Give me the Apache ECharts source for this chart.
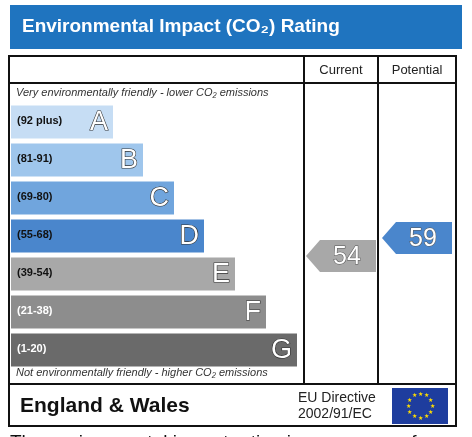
<!DOCTYPE html>
<html><head><meta charset="utf-8">
<script src="https://cdn.jsdelivr.net/npm/echarts@6/dist/echarts.min.js"></script>
<style>html,body{margin:0;padding:0;background:#fff}#c{width:472px;height:437px}</style>
</head><body><div id="c"></div>
<script>
const bands = ['A', 'B', 'C', 'D', 'E', 'F', 'G'];
const ranges = ['(92 plus)', '(81-91)', '(69-80)', '(55-68)', '(39-54)', '(21-38)', '(1-20)'];
const barLen = [102, 132, 163, 193, 224, 255, 286];
const bandColors = ['#c6ddf4', '#9fc6ec', '#70a5dd', '#4a86cc', '#a8a8a8', '#8d8d8d', '#6a6a6a'];
const rangeColors = ['#111', '#111', '#111', '#111', '#111', '#fff', '#fff'];
const columns = ['Current', 'Potential'];
const ratings = [54, 59];
const arrowColors = ['#a8a8a8', '#4a86cc'];

const font = 'Liberation Sans, Arial, sans-serif';

function arrow(params, api) {
  const p = api.coord([api.value(0), api.value(1)]);
  const w = 70, h = 32, tip = 14;
  const l = p[0] - w / 2 - 1, r = p[0] + w / 2 - 1, t = p[1] - h / 2, b = p[1] + h / 2;
  return {
    type: 'group',
    children: [
      { type: 'polygon', shape: { points: [[l, p[1]], [l + tip, t], [r, t], [r, b], [l + tip, b]] },
        style: { fill: arrowColors[params.dataIndex] } },
      { type: 'text', style: { text: String(api.value(1)), x: p[0] + 5, y: p[1] + 1, align: 'center', verticalAlign: 'middle',
        fill: '#fff', stroke: '#555', lineWidth: 1, font: '25px ' + font } }
    ]
  };
}

const option = {
  animation: false,
  grid: [
    { left: 11, top: 103, width: 290, height: 266 },
    { left: 304, top: 103, width: 152, height: 266 }
  ],
  xAxis: [
    { gridIndex: 0, type: 'value', min: 0, max: 290, show: false },
    { gridIndex: 1, type: 'category', data: columns, show: false }
  ],
  yAxis: [
    { gridIndex: 0, type: 'category', data: bands, inverse: true, show: false },
    { gridIndex: 1, type: 'value', min: 22.6, max: 96.5, show: false }
  ],
  series: [
    {
      type: 'bar', xAxisIndex: 0, yAxisIndex: 0, barWidth: 33,
      data: barLen.map((v, i) => ({ value: v, itemStyle: { color: bandColors[i] } })),
      label: { show: true, position: 'insideRight', offset: [0, 1],
        formatter: p => bands[p.dataIndex], fontFamily: font, fontSize: 27,
        color: '#fff', textBorderColor: '#333', textBorderWidth: 1.2 }
    },
    { type: 'custom', xAxisIndex: 1, yAxisIndex: 1, data: columns.map((c, i) => [i, ratings[i]]), renderItem: arrow }
  ],
  graphic: [
    { type: 'rect', shape: { x: 10, y: 5, width: 452, height: 44 }, style: { fill: '#1f74bf' } },
    { type: 'text', style: { text: 'Environmental Impact (CO₂) Rating', x: 22, y: 27, verticalAlign: 'middle',
      fill: '#fff', font: 'bold 19px ' + font } },
    { type: 'rect', shape: { x: 9, y: 56, width: 447, height: 370 }, style: { fill: 'none', stroke: '#111', lineWidth: 2 } },
    { type: 'line', shape: { x1: 9, y1: 83, x2: 456, y2: 83 }, style: { stroke: '#111', lineWidth: 2 } },
    { type: 'line', shape: { x1: 9, y1: 384, x2: 456, y2: 384 }, style: { stroke: '#111', lineWidth: 2 } },
    { type: 'line', shape: { x1: 304, y1: 56, x2: 304, y2: 384 }, style: { stroke: '#111', lineWidth: 2 } },
    { type: 'line', shape: { x1: 378, y1: 56, x2: 378, y2: 384 }, style: { stroke: '#111', lineWidth: 2 } },
    { type: 'text', style: { text: 'Current', x: 341, y: 70, align: 'center', verticalAlign: 'middle', fill: '#222', font: '13px ' + font } },
    { type: 'text', style: { text: 'Potential', x: 417, y: 70, align: 'center', verticalAlign: 'middle', fill: '#222', font: '13px ' + font } },
    { type: 'text', style: { text: 'Very environmentally friendly - lower CO₂ emissions', x: 16, y: 93, verticalAlign: 'middle', fill: '#333', font: 'italic 11px ' + font } },
    { type: 'text', style: { text: 'Not environmentally friendly - higher CO₂ emissions', x: 16, y: 373, verticalAlign: 'middle', fill: '#333', font: 'italic 11px ' + font } },
    ...ranges.map((r, i) => ({ type: 'text', z: 10, style: { text: r, x: 17, y: 121 + 38 * i, verticalAlign: 'middle',
      fill: rangeColors[i], font: 'bold 11px ' + font } })),
    { type: 'text', style: { text: 'England & Wales', x: 20, y: 406, verticalAlign: 'middle', fill: '#111', font: 'bold 21px ' + font } },
    { type: 'text', style: { text: 'EU Directive', x: 298, y: 398, verticalAlign: 'middle', fill: '#222', font: '14px ' + font } },
    { type: 'text', style: { text: '2002/91/EC', x: 298, y: 414, verticalAlign: 'middle', fill: '#222', font: '14px ' + font } },
    { type: 'rect', shape: { x: 392, y: 388, width: 56, height: 36 }, style: { fill: '#1e3d9e' } },
    ...Array.from({ length: 12 }, (_, k) => ({
      type: 'text', style: { text: '★', x: 420 + 12 * Math.cos(k * Math.PI / 6), y: 406 + 12 * Math.sin(k * Math.PI / 6),
        align: 'center', verticalAlign: 'middle', fill: '#ffdd00', font: '6px ' + font } })),
    { type: 'text', style: { text: 'The environmental impact rating is a measure of a', x: 10, y: 443, verticalAlign: 'middle', fill: '#111', font: '19px ' + font } }
  ]
};
echarts.init(document.getElementById('c')).setOption(option);
</script></body></html>
